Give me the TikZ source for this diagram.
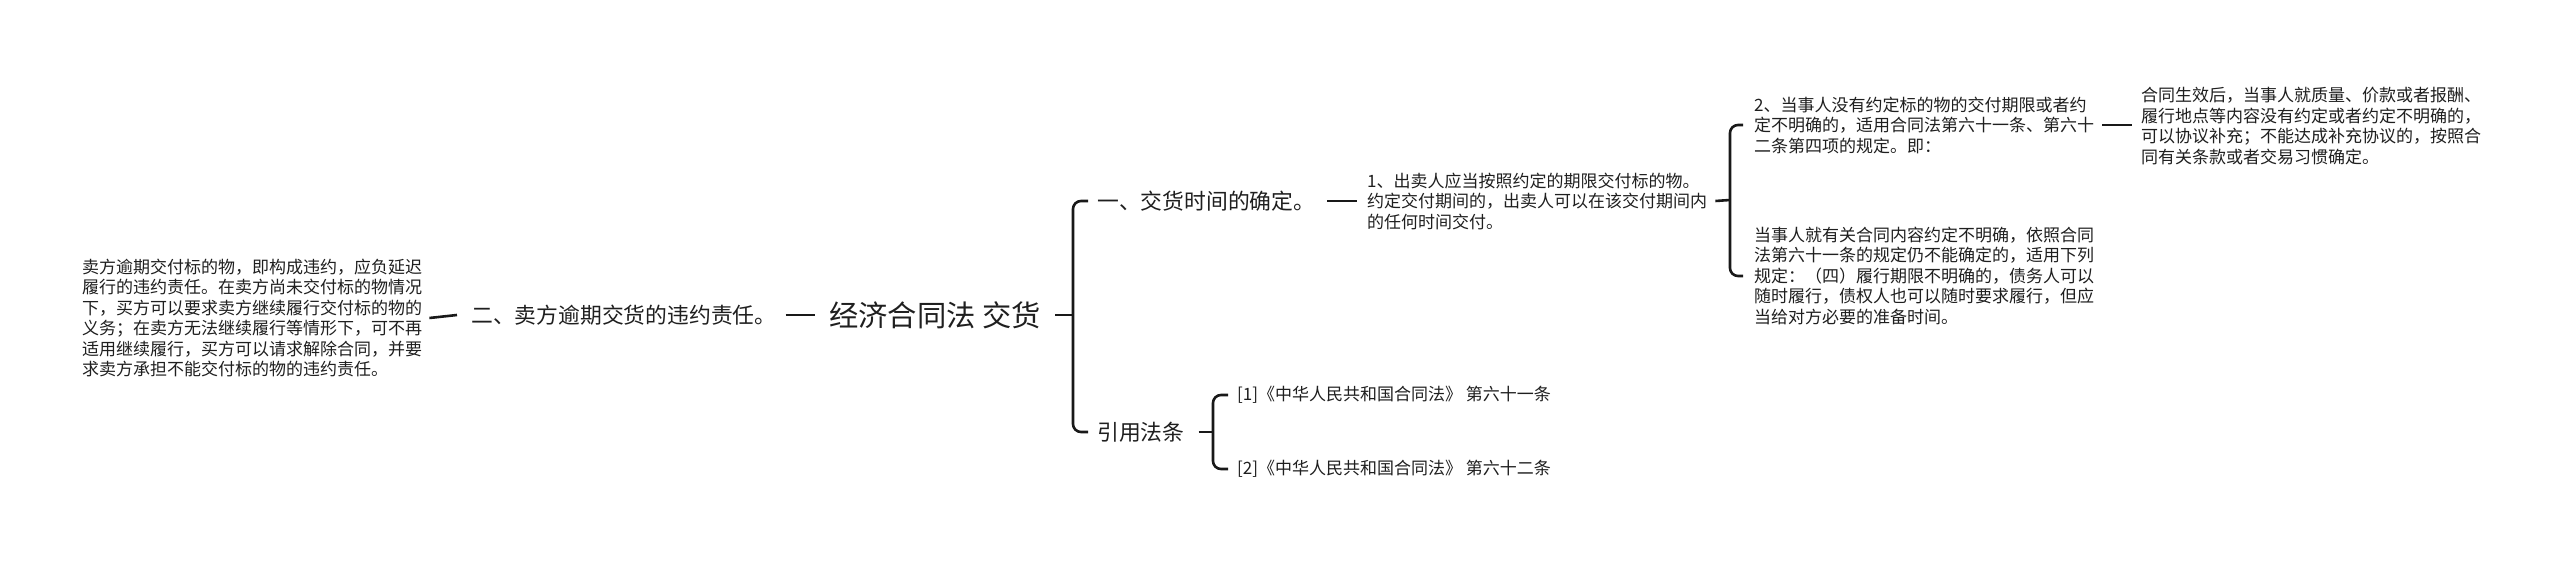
\documentclass[tikz,border=0pt]{standalone}
\usepackage{fontspec}
\setmainfont{Noto Sans CJK SC}
\begin{document}
\begin{tikzpicture}[x=1pt,y=-1pt,
  txt/.style={anchor=west,inner sep=0pt,align=left,text=black!88},
  small/.style={txt,font=\fontsize{17}{20.5}\selectfont},
  mid/.style={txt,font=\fontsize{21.8}{25}\selectfont},
  cite/.style={txt,font=\fontsize{17}{20}\selectfont},
  big/.style={txt,font=\fontsize{29.3}{33}\selectfont},
  conn/.style={draw=black!90,line width=2.6pt},
  brk/.style={draw=black!90,line width=2.6pt,rounded corners=8pt}]
\useasboundingbox[fill=white] (0,0) rectangle (2560,561);

\node[small] (left) at (82,318) {卖方逾期交付标的物，即构成违约，应负延迟\\履行的违约责任。在卖方尚未交付标的物情况\\下，买方可以要求卖方继续履行交付标的物的\\义务；在卖方无法继续履行等情形下，可不再\\适用继续履行，买方可以请求解除合同，并要\\求卖方承担不能交付标的物的违约责任。};
\node[mid] (two) at (471,315) {二、卖方逾期交货的违约责任。};
\node[big] (root) at (829,315) {经济合同法 交货};
\node[mid] (one) at (1097,201) {一、交货时间的确定。};
\node[small] (a) at (1367,201) {1、出卖人应当按照约定的期限交付标的物。\\约定交付期间的，出卖人可以在该交付期间内\\的任何时间交付。};
\node[small] (b) at (1754,125) {2、当事人没有约定标的物的交付期限或者约\\定不明确的，适用合同法第六十一条、第六十\\二条第四项的规定。即：};
\node[small] (c) at (1754,276) {当事人就有关合同内容约定不明确，依照合同\\法第六十一条的规定仍不能确定的，适用下列\\规定：（四）履行期限不明确的，债务人可以\\随时履行，债权人也可以随时要求履行，但应\\当给对方必要的准备时间。};
\node[small] (d) at (2141,126) {合同生效后，当事人就质量、价款或者报酬、\\履行地点等内容没有约定或者约定不明确的，\\可以协议补充；不能达成补充协议的，按照合\\同有关条款或者交易习惯确定。};
\node[mid] (law) at (1097,432) {引用法条};
\node[cite] (r1) at (1237,395) {[1]《中华人民共和国合同法》 第六十一条};
\node[cite] (r2) at (1237,469) {[2]《中华人民共和国合同法》 第六十二条};

\coordinate (j0) at (1073,315);
\coordinate (j1) at (1730,200);
\coordinate (j2) at (1213,432);

\draw[conn] ([xshift=7]left.east) -- ([xshift=-14]two.west);
\draw[conn] ([xshift=9]two.east) -- ([xshift=-14]root.west);
\draw[conn] (j0) ++(-18,0) coordinate (s0) (s0) -- (j0);
\draw[brk] ([xshift=-9]one.west) -- (j0 |- one.west) -- (j0 |- law.west) -- ([xshift=-9]law.west);
\draw[conn] ([xshift=12]one.east) -- ([xshift=-10]a.west);
\draw[conn] ([xshift=8]a.east) -- (j1);
\draw[brk] ([xshift=-11]b.west) -- (j1 |- b.west) -- (j1 |- c.west) -- ([xshift=-11]c.west);
\draw[conn] ([xshift=8]b.east) -- ([xshift=-9]d.west |- b.west);
\draw[conn] ([xshift=14]law.east) -- (j2);
\draw[brk] ([xshift=-9]r1.west) -- (j2 |- r1.west) -- (j2 |- r2.west) -- ([xshift=-9]r2.west);
\end{tikzpicture}
\end{document}
